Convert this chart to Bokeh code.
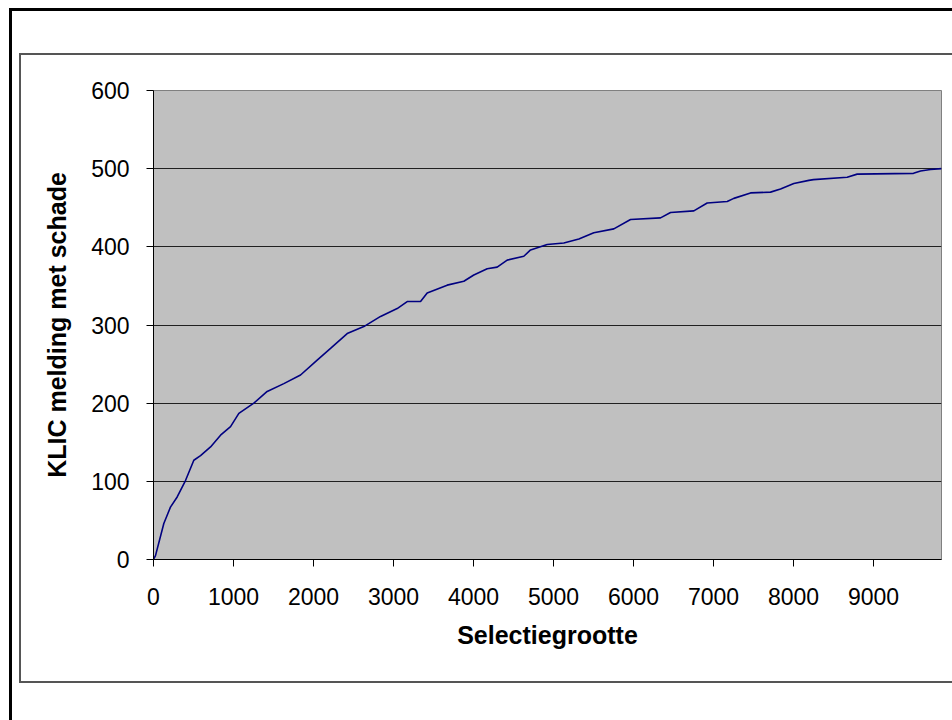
from bokeh.plotting import figure
from bokeh.models import Range1d, FixedTicker
from bokeh.embed import file_html
from bokeh.resources import INLINE

# Data
selectie = [0, 25, 129, 212, 296, 400, 504, 588, 713, 838, 963, 1067, 1254, 1421, 1629,
            1838, 2046, 2213, 2421, 2629, 2838, 3046, 3171, 3338, 3421, 3671, 3879, 4004,
            4171, 4296, 4421, 4629, 4713, 4921, 5129, 5317, 5504, 5754, 5963, 6338, 6463,
            6754, 6921, 7171, 7254, 7463, 7713, 7838, 8004, 8192, 8250, 8671, 8796, 9500,
            9588, 9713, 9850]
schade = [0, 5, 46, 67, 80, 101, 127, 133, 144, 159, 170, 187, 200, 215, 225,
          236, 255, 270, 289, 298, 311, 321, 330, 330, 341, 351, 356, 364,
          372, 374, 383, 388, 396, 403, 405, 410, 418, 423, 435, 437, 444,
          446, 456, 458, 462, 469, 470, 474, 481, 485, 486, 489, 493, 494,
          497, 499, 500]
x_ticks = [0, 1000, 2000, 3000, 4000, 5000, 6000, 7000, 8000, 9000]
y_ticks = [0, 100, 200, 300, 400, 500, 600]
x_title = "Selectiegrootte"
y_title = "KLIC melding met schade"

p = figure(width=952, height=720, output_backend="svg", toolbar_location=None,
           x_range=Range1d(0, 9850), y_range=Range1d(0, 600),
           min_border_left=153, min_border_right=11, min_border_top=90, min_border_bottom=161)

p.background_fill_color = "#C0C0C0"
p.border_fill_alpha = 0
p.outline_line_color = "#808080"
p.outline_line_width = 1

# decorative chart-area borders drawn as CSS background lines of the host element
p.styles = {
    "background-color": "white",
    "background-image": ("linear-gradient(#000,#000), linear-gradient(#000,#000), "
                         "linear-gradient(#555,#555), linear-gradient(#555,#555), "
                         "linear-gradient(#555,#555)"),
    "background-size": "3px 100%, 100% 3px, 2px 630px, 100% 2px, 100% 2px",
    "background-position": "9px 8px, 9px 8px, 19px 53px, 19px 53px, 19px 681px",
    "background-repeat": "no-repeat",
}

p.line(selectie, schade, line_color="#000080", line_width=1.6)

font = "Liberation Sans"
for ax in (p.xaxis[0], p.yaxis[0]):
    ax.axis_line_color = "black"
    ax.major_tick_line_color = "black"
    ax.minor_tick_line_color = None
    ax.major_tick_in = 0
    ax.major_tick_out = 7
    ax.major_label_text_font = font
    ax.major_label_text_font_size = "23px"
    ax.major_label_text_color = "black"
    ax.axis_label_text_font = font
    ax.axis_label_text_font_style = "bold"
    ax.axis_label_text_font_size = "25px"
    ax.axis_label_text_color = "black"

p.xaxis.ticker = FixedTicker(ticks=x_ticks)
p.yaxis.ticker = FixedTicker(ticks=y_ticks)
p.xaxis.axis_label = x_title
p.yaxis.axis_label = y_title
p.xaxis.major_label_standoff = 21
p.yaxis.major_label_standoff = 17
p.xaxis.axis_label_standoff = 13
p.yaxis.axis_label_standoff = 17

p.xgrid.grid_line_color = None
p.ygrid.grid_line_color = "#202020"
p.ygrid.grid_line_width = 1

open("out.html", "w").write(file_html(p, INLINE))
